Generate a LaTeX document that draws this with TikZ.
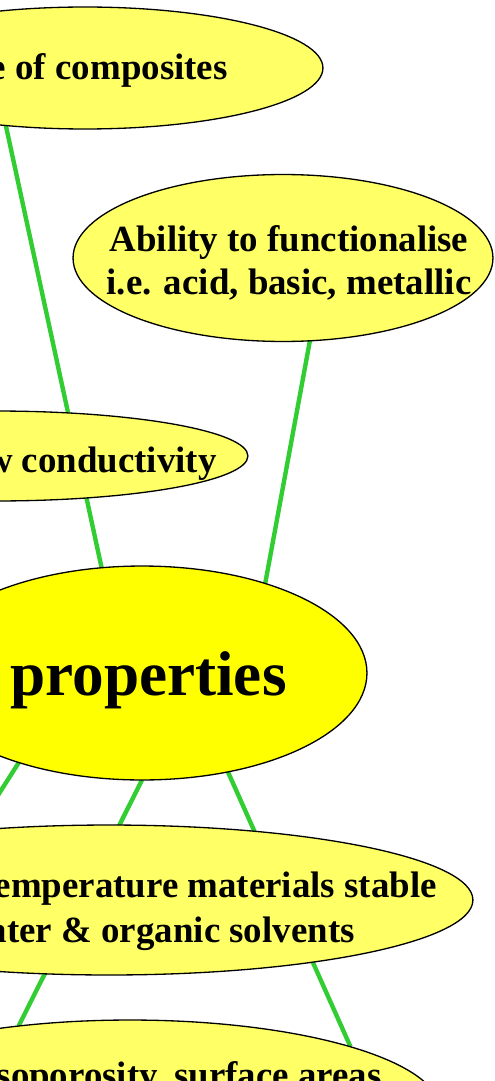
\documentclass[tikz,border=0pt]{standalone}
\usepackage{fontspec}
\setmainfont{Liberation Serif}
\usetikzlibrary{shapes.geometric,backgrounds}

\definecolor{ideafill}{HTML}{FFFF66}
\definecolor{centrefill}{HTML}{FFFF00}
\definecolor{ramagreen}{RGB}{50,205,50}

\begin{document}
\begin{tikzpicture}[x=0.02cm, y=-0.02cm,
  idea/.style={ellipse, draw, line width=0.75pt, fill=ideafill, inner sep=0pt, outer sep=0pt},
  txt/.style={inner sep=0pt, font=\fontsize{21}{24}\selectfont\bfseries},
  rama/.style={draw=ramagreen, line width=2.5pt}]
  % Marco
  \useasboundingbox (0,0) rectangle (494,1081);
  \clip (0,0) rectangle (494,1081);

  % Elipses
  \node[idea, minimum width=9.52cm, minimum height=2.44cm] (comp) at (85,68) {};
  \node[idea, minimum width=8.4cm, minimum height=3.34cm] (abil) at (283,258) {};
  \node[idea, minimum width=10.12cm, minimum height=1.8cm] (cond) at (-5,456) {};
  \node[idea, fill=centrefill, minimum width=9cm, minimum height=4.28cm] (prop) at (142,673) {};
  \node[idea, minimum width=14.56cm, minimum height=3cm] (temp) at (109,900) {};
  \node[idea, minimum width=12.4cm, minimum height=3.6cm] (poro) at (130,1110) {};
  \coordinate (lft) at (-40,855);

  % Textos
  \node[txt, anchor=base east] (compT) at (228,80) {e of composites};
  \node[txt, anchor=base] (abilA) at (289,252) {Ability to functionalise};
  \node[txt, anchor=base] (abilB) at (289,294) {i.e. acid, basic, metallic};
  \node[txt, anchor=base east] (condT) at (217,472) {w conductivity};
  \node[txt, anchor=base east, font=\fontsize{36}{40}\selectfont\bfseries] (propT) at (287,695) {properties};
  \node[txt, anchor=base east] (tempA) at (437,897) {emperature materials stable};
  \node[txt, anchor=base east] (tempB) at (355,942) {ater \& organic solvents};
  \node[txt, anchor=base east] (poroT) at (382,1087) {soporosity, surface areas};

  % Ramas (detras de las elipses)
  \begin{pgfonlayer}{background}
    \clip (0,0) rectangle (494,1081);
    \draw[rama] (prop.111) -- (comp.216);
    \draw[rama] (prop.36) -- (abil.288);
    \draw[rama] (prop.216) -- (lft);
    \draw[rama] (prop.270) -- (poro.143);
    \draw[rama] (prop.311) -- (poro.16);
  \end{pgfonlayer}
\end{tikzpicture}
\end{document}
